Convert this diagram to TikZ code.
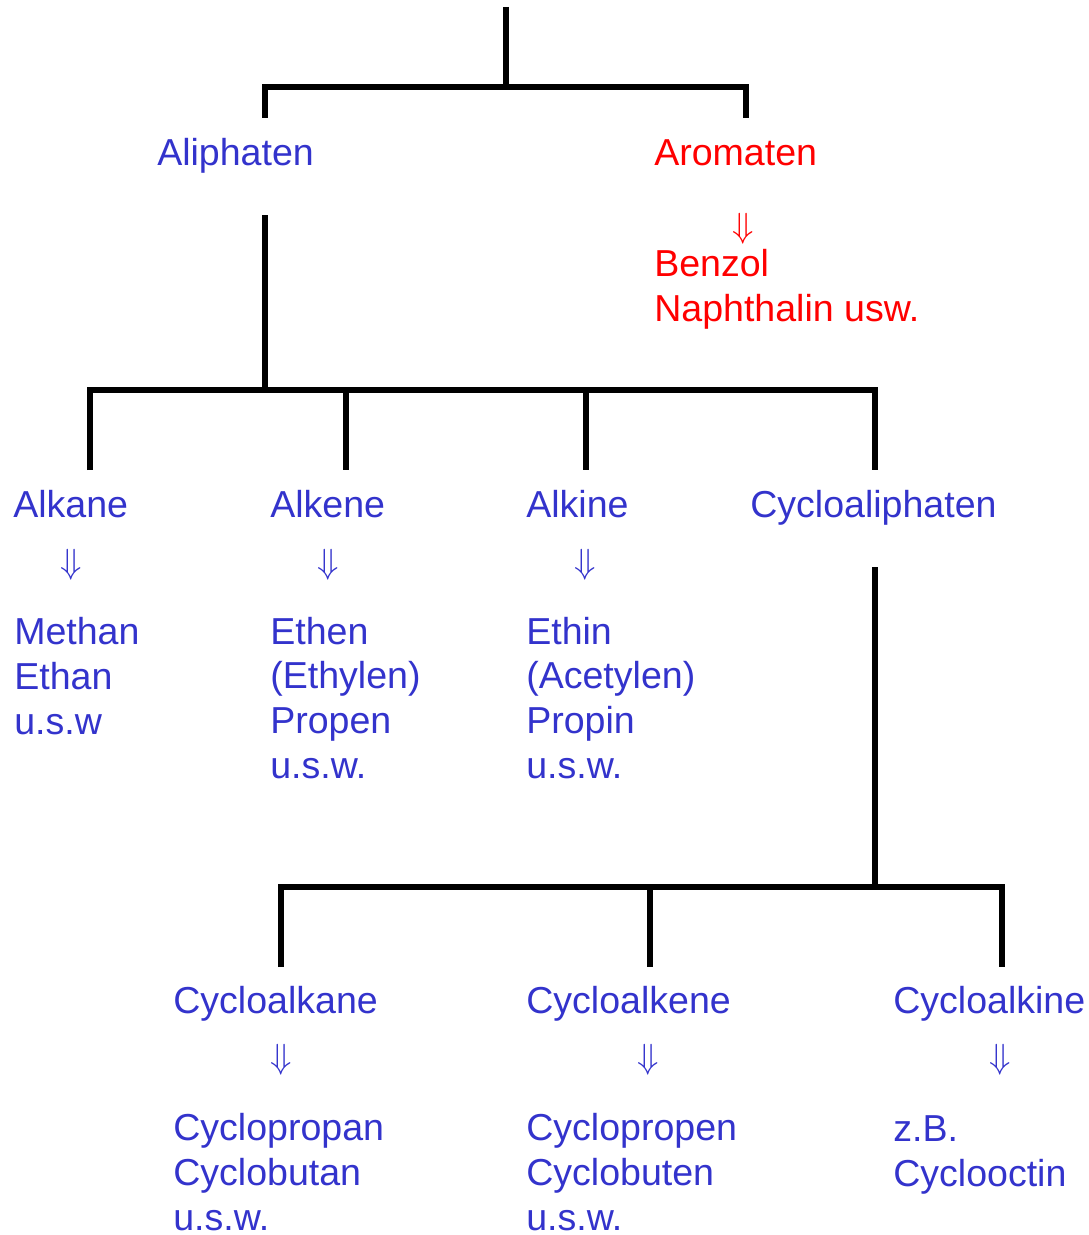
\documentclass[tikz,border=0pt]{standalone}
\usepackage{fontspec}
\setmainfont{Liberation Sans}
\definecolor{aliblue}{RGB}{51,51,204}
\definecolor{arored}{RGB}{255,0,0}
\tikzset{
	branch/.style={line width=0.1375cm, black},
	label/.style={anchor=base west, inner sep=0pt, align=left, font=\fontsize{26.7}{31.7}\selectfont},
	downarrow/.style={inner sep=0pt, font=\fontsize{26.7}{31.7}\selectfont}
}
\begin{document}
\begin{tikzpicture}[x=0.025cm,y=-0.025cm]
			\useasboundingbox (0,0) rectangle (1088,1235);
			%Root of the tree
			\coordinate (root) at (506,7);
			\coordinate (rootJoin) at (506,87);
			\coordinate (aliTop) at (265,87);
			\coordinate (aroTop) at (746,87);
			\coordinate (aliEnd) at (265,118);
			\coordinate (aroEnd) at (746,118);
			\draw [branch] (root) -- (rootJoin);
			\draw [branch] (aliEnd) -- (aliTop) -- (aroTop) -- (aroEnd);
			%First level
			\node [label, text=aliblue] (aliphaten) at (157,165) {Aliphaten};
			\node [label, text=arored] (aromaten) at (654,165) {Aromaten};
			\node [downarrow, text=arored] (aroArrow) at (743,229) {$\Downarrow$};
			%lists are placed at the baseline of their last line
			\node [label, text=arored] (aroList) at (654,321) {Benzol\\Naphthalin usw.};
			%Aliphaten stem and its branches
			\coordinate (aliStem) at (265,215);
			\coordinate (aliJoin) at (265,390);
			\draw [branch] (aliStem) -- (aliJoin);
			\coordinate (alkaneTop) at (90,390);
			\coordinate (alkeneTop) at (346,390);
			\coordinate (alkineTop) at (586,390);
			\coordinate (cycloTop) at (875,390);
			\coordinate (alkaneEnd) at (90,470);
			\coordinate (alkeneEnd) at (346,470);
			\coordinate (alkineEnd) at (586,470);
			\coordinate (cycloEnd) at (875,470);
			\draw [branch] (alkaneEnd) -- (alkaneTop) -- (cycloTop) -- (cycloEnd);
			\draw [branch] (alkeneTop) -- (alkeneEnd);
			\draw [branch] (alkineTop) -- (alkineEnd);
			%Second level
			\node [label, text=aliblue] (alkane) at (13,517) {Alkane};
			\node [label, text=aliblue] (alkene) at (270,517) {Alkene};
			\node [label, text=aliblue] (alkine) at (526,517) {Alkine};
			\node [label, text=aliblue] (cycloali) at (750,517) {Cycloaliphaten};
			\node [downarrow, text=aliblue] (alkaneArrow) at (71,565) {$\Downarrow$};
			\node [downarrow, text=aliblue] (alkeneArrow) at (328,565) {$\Downarrow$};
			\node [downarrow, text=aliblue] (alkineArrow) at (585,565) {$\Downarrow$};
			\node [label, text=aliblue] (alkaneList) at (14,734) {Methan\\Ethan\\u.s.w};
			\node [label, text=aliblue] (alkeneList) at (270,778) {Ethen\\(Ethylen)\\Propen\\u.s.w.};
			\node [label, text=aliblue] (alkineList) at (526,778) {Ethin\\(Acetylen)\\Propin\\u.s.w.};
			%Cycloaliphaten stem and its branches
			\coordinate (cycloStem) at (875,567);
			\coordinate (cycloJoin) at (875,887);
			\draw [branch] (cycloStem) -- (cycloJoin);
			\coordinate (cAlkaneTop) at (281,887);
			\coordinate (cAlkeneTop) at (650,887);
			\coordinate (cAlkineTop) at (1002,887);
			\coordinate (cAlkaneEnd) at (281,967);
			\coordinate (cAlkeneEnd) at (650,967);
			\coordinate (cAlkineEnd) at (1002,967);
			\draw [branch] (cAlkaneEnd) -- (cAlkaneTop) -- (cAlkineTop) -- (cAlkineEnd);
			\draw [branch] (cAlkeneTop) -- (cAlkeneEnd);
			%Third level
			\node [label, text=aliblue] (cAlkane) at (173,1013) {Cycloalkane};
			\node [label, text=aliblue] (cAlkene) at (526,1013) {Cycloalkene};
			\node [label, text=aliblue] (cAlkine) at (893,1013) {Cycloalkine};
			\node [downarrow, text=aliblue] (cAlkaneArrow) at (281,1060) {$\Downarrow$};
			\node [downarrow, text=aliblue] (cAlkeneArrow) at (648,1060) {$\Downarrow$};
			\node [downarrow, text=aliblue] (cAlkineArrow) at (1000,1060) {$\Downarrow$};
			\node [label, text=aliblue] (cAlkaneList) at (173,1230) {Cyclopropan\\Cyclobutan\\u.s.w.};
			\node [label, text=aliblue] (cAlkeneList) at (526,1230) {Cyclopropen\\Cyclobuten\\u.s.w.};
			\node [label, text=aliblue] (cAlkineList) at (893,1186) {z.B.\\Cyclooctin};
\end{tikzpicture}
\end{document}
